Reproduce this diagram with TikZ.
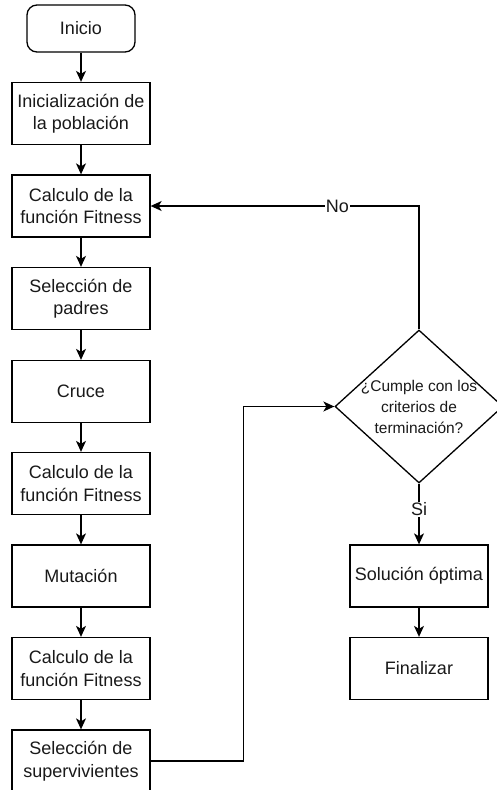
\documentclass[tikz,border=0pt]{standalone}
\usepackage{fontspec}
\setmainfont{Liberation Sans}
\usetikzlibrary{shapes.geometric,arrows.meta}

\begin{document}
\begin{tikzpicture}[x=1pt,y=-1pt,
  line width=1.3pt,
  every node/.style={text=black!90},
  proc/.style={draw, rectangle, minimum width=138pt, minimum height=62pt,
    inner sep=2pt, align=center, font=\fontsize{18}{22.5}\selectfont},
  term/.style={proc, rounded corners=10pt, minimum width=108pt, minimum height=47pt},
  decision/.style={draw, diamond, minimum width=168pt, minimum height=153pt, inner sep=0pt},
  arr/.style={-{Stealth[length=11pt,width=10pt,inset=3pt]}},
  edgelabel/.style={fill=white, inner sep=1pt, font=\fontsize{18}{20}\selectfont}
]
\useasboundingbox (0,0) rectangle (496,790);

% main column of the algorithm
\node[term] (inicio) at (81,28.5) {Inicio};
\node[proc] (init) at (81,113.5) {Inicialización de\\la población};
\node[proc] (fit1) at (81,206) {Calculo de la\\función Fitness};
\node[proc] (padres) at (81,298.5) {Selección de\\padres};
\node[proc] (cruce) at (81,391.5) {Cruce};
\node[proc] (fit2) at (81,483.5) {Calculo de la\\función Fitness};
\node[proc] (mut) at (81,576) {Mutación};
\node[proc] (fit3) at (81,668.5) {Calculo de la\\función Fitness};
\node[proc] (superv) at (81,761) {Selección de\\supervivientes};

% termination test and outcome
\node[decision] (crit) at (419,406.5) {};
\node[align=center, font=\fontsize{15.5}{21}\selectfont] (critText) at (crit.center)
  {¿Cumple con los\\criterios de\\terminación?};
\node[proc] (sol) at (419,576) {Solución óptima};
\node[proc] (fin) at (419,668.5) {Finalizar};

% connectors
\draw[arr] (inicio) -- (init);
\draw[arr] (init) -- (fit1);
\draw[arr] (fit1) -- (padres);
\draw[arr] (padres) -- (cruce);
\draw[arr] (cruce) -- (fit2);
\draw[arr] (fit2) -- (mut);
\draw[arr] (mut) -- (fit3);
\draw[arr] (fit3) -- (superv);
\draw[arr] (superv.east) -- ++(93,0) |- (crit.west);
\draw[arr] (crit.north) |- node[edgelabel, pos=0.652] {No} (fit1.east);
\draw[arr] (crit.south) -- node[edgelabel, pos=0.42] {Si} (sol.north);
\draw[arr] (sol) -- (fin);
\end{tikzpicture}
\end{document}
